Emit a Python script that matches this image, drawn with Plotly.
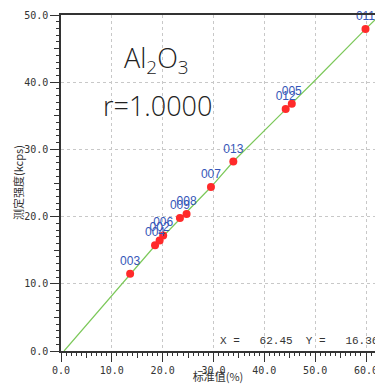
import plotly.graph_objects as go

# Data
labels = ["003", "004", "002", "006", "009", "008", "007", "013", "012", "005", "011"]
std_vals = [13.6, 18.5, 19.4, 20.1, 23.4, 24.7, 29.5, 33.9, 44.2, 45.4, 59.9]
meas_vals = [11.5, 15.75, 16.45, 17.2, 19.8, 20.4, 24.4, 28.2, 36.0, 36.8, 47.9]
# calibration curve
fit_x = [0.6, 13.6, 20.0, 29.5, 33.9, 44.8, 49.6, 59.9, 61.8]
fit_y = [0.0, 11.5, 17.0, 24.4, 28.2, 36.4, 40.0, 47.9, 49.3]
x_ticks = [0, 10, 20, 30, 40, 50, 60]
y_ticks = [0, 10, 20, 30, 40, 50]
x_range = [0, 61.77]
y_range = [0, 50]

fig = go.Figure()
fig.add_trace(go.Scatter(x=fit_x, y=fit_y, mode="lines",
                         line=dict(color="#7cc85a", width=1.2),
                         hoverinfo="skip", showlegend=False))
fig.add_trace(go.Scatter(x=std_vals, y=meas_vals, mode="markers+text",
                         text=labels, textposition="top center",
                         textfont=dict(family="Liberation Sans, Arial", size=12, color="#3556b8"),
                         marker=dict(color="#ff2a2a", size=8),
                         cliponaxis=False, showlegend=False))
# invisible trace on overlay axes (for medium ticks at 5s)
fig.add_trace(go.Scatter(x=[None], y=[None], xaxis="x2", yaxis="y2",
                         showlegend=False, hoverinfo="skip"))

tickfont = dict(family="DejaVu Sans Mono, monospace", size=10, color="#333")
axis_common = dict(showline=True, linecolor="#333", linewidth=1.5, mirror=True,
                   ticks="outside", ticklen=9, tickcolor="#333", tickwidth=1.2,
                   minor=dict(dtick=1, ticks="outside", ticklen=3, tickcolor="#333", showgrid=False),
                   showgrid=True, gridcolor="#c8c8c8", griddash="3px,3px", gridwidth=1,
                   zeroline=False, tickfont=tickfont, ticklabeloverflow="allow",
                   automargin=False)
fig.update_xaxes(range=x_range, tickvals=x_ticks, ticktext=[f"{v:.1f}" for v in x_ticks],
                 title=dict(text="标准值(%)", font=dict(family="Noto Sans CJK SC", size=11, color="#333"), standoff=5),
                 **axis_common)
fig.update_yaxes(range=y_range, tickvals=y_ticks, ticktext=[f"{v:.1f}" for v in y_ticks],
                 **axis_common)

mid_common = dict(showline=False, showgrid=False, zeroline=False,
                  ticks="outside", ticklen=6, tickcolor="#333", tickwidth=1.2,
                  showticklabels=False, tick0=5, dtick=10)
fig.update_layout(
    xaxis2=dict(range=x_range, overlaying="x", side="bottom", anchor="y", **mid_common),
    yaxis2=dict(range=y_range, overlaying="y", side="left", anchor="x", **mid_common),
)

fig.add_annotation(xref="paper", yref="paper", x=(18 - 61) / 314, y=0.5,
                   xanchor="center", yanchor="middle", textangle=-90,
                   text="测定强度(kcps)", showarrow=False,
                   font=dict(family="Noto Sans CJK SC", size=11, color="#333"))
fig.add_annotation(xref="paper", yref="paper", x=(156 - 61) / 314, y=(351 - 60) / 336,
                   xanchor="center", yanchor="middle",
                   text="Al<sub>2</sub>O<sub>3</sub>", showarrow=False,
                   font=dict(family="Open Sans", size=27, color="#222", weight=300))
fig.add_annotation(xref="paper", yref="paper", x=(157 - 61) / 314, y=(351 - 105) / 336,
                   xanchor="center", yanchor="middle",
                   text="r=1.0000", showarrow=False,
                   font=dict(family="Open Sans", size=27, color="#222", weight=300))
fig.add_annotation(xref="paper", yref="paper", x=(218 - 61) / 314, y=(351 - 341) / 336,
                   xanchor="left", yanchor="middle", text="X =   62.45  Y =   16.36", showarrow=False,
                   font=dict(family="Liberation Mono, monospace", size=11, color="#333"))

fig.update_layout(width=375, height=384, margin=dict(l=61, r=0, t=15, b=33),
                  plot_bgcolor="white", paper_bgcolor="white")
fig.write_html("out.html")
